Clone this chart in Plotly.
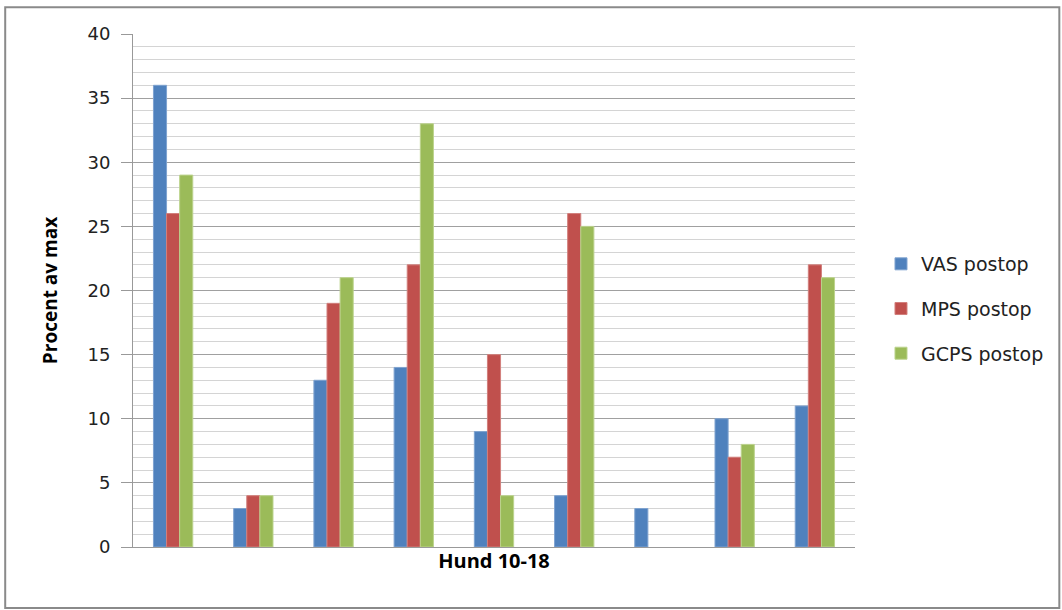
import plotly.graph_objects as go

# Dogs 10-18, postoperative pain scores as percent of max
dogs = [10, 11, 12, 13, 14, 15, 16, 17, 18]
vas_postop = [36, 3, 13, 14, 9, 4, 3, 10, 11]
mps_postop = [26, 4, 19, 22, 15, 26, 0, 7, 22]
gcps_postop = [29, 4, 21, 33, 4, 25, 0, 8, 21]

series = [
    ("VAS postop", vas_postop, "#4F81BD", "#7fa3d0"),
    ("MPS postop", mps_postop, "#C0504D", "#d27f7c"),
    ("GCPS postop", gcps_postop, "#9BBB59", "#bcd38d"),
]

label_font = "DejaVu Sans, Verdana, sans-serif"
title_font = "Open Sans, Liberation Sans, sans-serif"

fig = go.Figure()
for name, vals, color, edge in series:
    # no outline on empty bars so they stay invisible
    edge_widths = [1 if v > 0 else 0 for v in vals]
    fig.add_trace(go.Bar(
        x=dogs, y=vals, name=name, legendgroup=name,
        marker=dict(color=color, line=dict(color=edge, width=edge_widths)),
    ))

fig.update_layout(
    width=1062, height=610,
    margin=dict(l=133, r=207, t=34, b=63),
    paper_bgcolor="white", plot_bgcolor="white",
    barmode="group", bargap=0.51, bargroupgap=0,
    font=dict(family=label_font, color="#000", size=17),
    showlegend=True,
    legend=dict(
        x=1.036, xanchor="left", y=0.464, yanchor="middle",
        font=dict(family=label_font, size=19, color="#222"), tracegroupgap=17,
        itemwidth=30, traceorder="grouped",
    ),
    xaxis=dict(
        range=[9.5, 18.5], showticklabels=False, ticks="",
        showgrid=False, zeroline=False,
        showline=True, linecolor="#999", linewidth=1,
        title=dict(text="<b>Hund 10-18</b>",
                   font=dict(family=title_font, size=20), standoff=6),
    ),
    yaxis=dict(
        range=[0, 40], dtick=5, tick0=0,
        ticks="outside", ticklen=11, tickcolor="#999",
        ticklabelstandoff=7,
        showgrid=True, gridcolor="#a0a0a0", gridwidth=1,
        zeroline=False, showline=True, linecolor="#999", linewidth=1,
        tickfont=dict(family=label_font, size=18, color="#222"),
        minor=dict(dtick=1, showgrid=True, gridcolor="#d4d4d4", gridwidth=1),
        title=dict(text="<b>Procent av max</b>",
                   font=dict(family=title_font, size=19), standoff=24),
    ),
    shapes=[dict(
        type="rect", xref="paper", yref="paper",
        x0=-0.177, x1=1.283, y0=-0.119, y1=1.052,
        line=dict(color="#8a8a8a", width=2), layer="below",
    )],
)

fig.write_html("out.html")
